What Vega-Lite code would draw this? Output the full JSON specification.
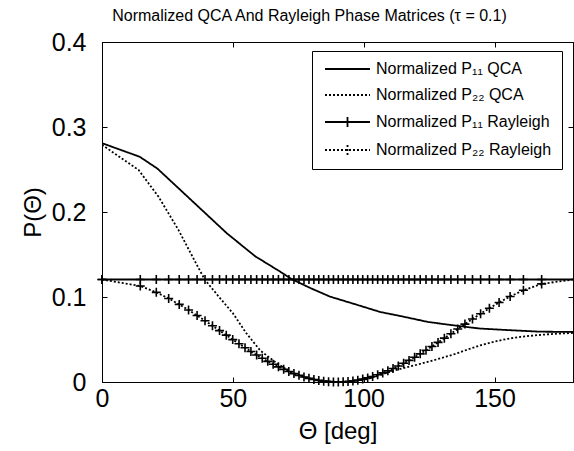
{
  "$schema": "https://vega.github.io/schema/vega-lite/v6.json",
  "width": 471,
  "height": 340,
  "autosize": "none",
  "padding": {"left": 102, "top": 42, "right": 1, "bottom": 69},
  "background": "white",
  "title": {
    "text": "Normalized QCA And Rayleigh Phase Matrices (τ = 0.1)",
    "font": "Liberation Sans",
    "fontSize": 16,
    "fontWeight": "normal",
    "color": "black",
    "anchor": "middle",
    "dx": -28,
    "offset": 6
  },
  "config": {
    "view": {"stroke": "black", "strokeWidth": 1},
    "axis": {
      "grid": false,
      "domainColor": "black",
      "tickColor": "black",
      "labelColor": "black",
      "titleColor": "black",
      "labelFont": "Liberation Sans",
      "titleFont": "Liberation Sans",
      "titleFontWeight": "normal",
      "labelFontSize": 25,
      "titleFontSize": 24,
      "tickSize": -5,
      "tickWidth": 1,
      "domainWidth": 1,
      "labelFlush": false,
      "labelOverlap": false,
      "labelBound": false
    },
    "legend": {
      "labelFont": "Liberation Sans",
      "labelColor": "black"
    }
  },
  "datasets": {
    "qca": [
      {"t": 0, "s": "P₁₁ QCA", "v": 0.281},
      {"t": 14.4, "s": "P₁₁ QCA", "v": 0.265},
      {"t": 21.2, "s": "P₁₁ QCA", "v": 0.251},
      {"t": 47.7, "s": "P₁₁ QCA", "v": 0.175},
      {"t": 58.5, "s": "P₁₁ QCA", "v": 0.148},
      {"t": 68, "s": "P₁₁ QCA", "v": 0.13},
      {"t": 72.5, "s": "P₁₁ QCA", "v": 0.121},
      {"t": 80, "s": "P₁₁ QCA", "v": 0.11},
      {"t": 87.2, "s": "P₁₁ QCA", "v": 0.1004},
      {"t": 98, "s": "P₁₁ QCA", "v": 0.0903},
      {"t": 106.3, "s": "P₁₁ QCA", "v": 0.0824},
      {"t": 115, "s": "P₁₁ QCA", "v": 0.077},
      {"t": 124.5, "s": "P₁₁ QCA", "v": 0.0707},
      {"t": 131, "s": "P₁₁ QCA", "v": 0.068},
      {"t": 137, "s": "P₁₁ QCA", "v": 0.0656},
      {"t": 144.4, "s": "P₁₁ QCA", "v": 0.0629},
      {"t": 155.5, "s": "P₁₁ QCA", "v": 0.061},
      {"t": 167.4, "s": "P₁₁ QCA", "v": 0.0592},
      {"t": 180, "s": "P₁₁ QCA", "v": 0.0589},
      {"t": 0, "s": "P₂₂ QCA", "v": 0.279},
      {"t": 14, "s": "P₂₂ QCA", "v": 0.2494},
      {"t": 21.6, "s": "P₂₂ QCA", "v": 0.218},
      {"t": 29.2, "s": "P₂₂ QCA", "v": 0.179},
      {"t": 36.9, "s": "P₂₂ QCA", "v": 0.134},
      {"t": 39.4, "s": "P₂₂ QCA", "v": 0.12},
      {"t": 45, "s": "P₂₂ QCA", "v": 0.099},
      {"t": 50, "s": "P₂₂ QCA", "v": 0.081},
      {"t": 55, "s": "P₂₂ QCA", "v": 0.058},
      {"t": 60.5, "s": "P₂₂ QCA", "v": 0.037},
      {"t": 66.8, "s": "P₂₂ QCA", "v": 0.022},
      {"t": 72, "s": "P₂₂ QCA", "v": 0.012},
      {"t": 78, "s": "P₂₂ QCA", "v": 0.005},
      {"t": 84, "s": "P₂₂ QCA", "v": 0.0012},
      {"t": 90, "s": "P₂₂ QCA", "v": 0},
      {"t": 96, "s": "P₂₂ QCA", "v": 0.0008},
      {"t": 102, "s": "P₂₂ QCA", "v": 0.004},
      {"t": 108, "s": "P₂₂ QCA", "v": 0.01},
      {"t": 114, "s": "P₂₂ QCA", "v": 0.0155},
      {"t": 120, "s": "P₂₂ QCA", "v": 0.02},
      {"t": 125, "s": "P₂₂ QCA", "v": 0.024},
      {"t": 130, "s": "P₂₂ QCA", "v": 0.0285},
      {"t": 135, "s": "P₂₂ QCA", "v": 0.033},
      {"t": 140, "s": "P₂₂ QCA", "v": 0.0385},
      {"t": 145, "s": "P₂₂ QCA", "v": 0.0435},
      {"t": 150, "s": "P₂₂ QCA", "v": 0.0475},
      {"t": 155, "s": "P₂₂ QCA", "v": 0.0508},
      {"t": 160, "s": "P₂₂ QCA", "v": 0.0532},
      {"t": 167, "s": "P₂₂ QCA", "v": 0.0553},
      {"t": 173, "s": "P₂₂ QCA", "v": 0.0567},
      {"t": 180, "s": "P₂₂ QCA", "v": 0.0577}
    ],
    "ray": [
      {"t": 0, "P₁₁ Rayleigh": 0.1206, "P₂₂ Rayleigh": 0.1206, "m": 1},
      {"t": 14.63, "P₁₁ Rayleigh": 0.1206, "P₂₂ Rayleigh": 0.1129, "m": 1},
      {"t": 20.75, "P₁₁ Rayleigh": 0.1206, "P₂₂ Rayleigh": 0.1055, "m": 1},
      {"t": 25.48, "P₁₁ Rayleigh": 0.1206, "P₂₂ Rayleigh": 0.0983, "m": 1},
      {"t": 29.52, "P₁₁ Rayleigh": 0.1206, "P₂₂ Rayleigh": 0.0913, "m": 1},
      {"t": 33.08, "P₁₁ Rayleigh": 0.1206, "P₂₂ Rayleigh": 0.0847, "m": 1},
      {"t": 36.34, "P₁₁ Rayleigh": 0.1206, "P₂₂ Rayleigh": 0.0782, "m": 1},
      {"t": 39.37, "P₁₁ Rayleigh": 0.1206, "P₂₂ Rayleigh": 0.0721, "m": 1},
      {"t": 42.22, "P₁₁ Rayleigh": 0.1206, "P₂₂ Rayleigh": 0.0661, "m": 1},
      {"t": 44.92, "P₁₁ Rayleigh": 0.1206, "P₂₂ Rayleigh": 0.0605, "m": 1},
      {"t": 47.49, "P₁₁ Rayleigh": 0.1206, "P₂₂ Rayleigh": 0.0551, "m": 1},
      {"t": 49.96, "P₁₁ Rayleigh": 0.1206, "P₂₂ Rayleigh": 0.0499, "m": 1},
      {"t": 52.35, "P₁₁ Rayleigh": 0.1206, "P₂₂ Rayleigh": 0.045, "m": 1},
      {"t": 54.66, "P₁₁ Rayleigh": 0.1206, "P₂₂ Rayleigh": 0.0403, "m": 1},
      {"t": 56.91, "P₁₁ Rayleigh": 0.1206, "P₂₂ Rayleigh": 0.0359, "m": 1},
      {"t": 59.1, "P₁₁ Rayleigh": 0.1206, "P₂₂ Rayleigh": 0.0318, "m": 1},
      {"t": 61.24, "P₁₁ Rayleigh": 0.1206, "P₂₂ Rayleigh": 0.0279, "m": 1},
      {"t": 63.34, "P₁₁ Rayleigh": 0.1206, "P₂₂ Rayleigh": 0.0243, "m": 1},
      {"t": 65.4, "P₁₁ Rayleigh": 0.1206, "P₂₂ Rayleigh": 0.0209, "m": 1},
      {"t": 67.43, "P₁₁ Rayleigh": 0.1206, "P₂₂ Rayleigh": 0.0178, "m": 1},
      {"t": 69.43, "P₁₁ Rayleigh": 0.1206, "P₂₂ Rayleigh": 0.0149, "m": 1},
      {"t": 71.4, "P₁₁ Rayleigh": 0.1206, "P₂₂ Rayleigh": 0.0123, "m": 1},
      {"t": 73.35, "P₁₁ Rayleigh": 0.1206, "P₂₂ Rayleigh": 0.0099, "m": 1},
      {"t": 75.28, "P₁₁ Rayleigh": 0.1206, "P₂₂ Rayleigh": 0.0078, "m": 1},
      {"t": 77.19, "P₁₁ Rayleigh": 0.1206, "P₂₂ Rayleigh": 0.0059, "m": 1},
      {"t": 79.09, "P₁₁ Rayleigh": 0.1206, "P₂₂ Rayleigh": 0.0043, "m": 1},
      {"t": 80.98, "P₁₁ Rayleigh": 0.1206, "P₂₂ Rayleigh": 0.003, "m": 1},
      {"t": 82.85, "P₁₁ Rayleigh": 0.1206, "P₂₂ Rayleigh": 0.0019, "m": 1},
      {"t": 84.72, "P₁₁ Rayleigh": 0.1206, "P₂₂ Rayleigh": 0.001, "m": 1},
      {"t": 86.59, "P₁₁ Rayleigh": 0.1206, "P₂₂ Rayleigh": 0.0004, "m": 1},
      {"t": 88.45, "P₁₁ Rayleigh": 0.1206, "P₂₂ Rayleigh": 0.0001, "m": 1},
      {"t": 90.31, "P₁₁ Rayleigh": 0.1206, "P₂₂ Rayleigh": 0, "m": 1},
      {"t": 92.16, "P₁₁ Rayleigh": 0.1206, "P₂₂ Rayleigh": 0.0002, "m": 1},
      {"t": 94.02, "P₁₁ Rayleigh": 0.1206, "P₂₂ Rayleigh": 0.0006, "m": 1},
      {"t": 95.89, "P₁₁ Rayleigh": 0.1206, "P₂₂ Rayleigh": 0.0013, "m": 1},
      {"t": 97.76, "P₁₁ Rayleigh": 0.1206, "P₂₂ Rayleigh": 0.0022, "m": 1},
      {"t": 99.64, "P₁₁ Rayleigh": 0.1206, "P₂₂ Rayleigh": 0.0034, "m": 1},
      {"t": 101.53, "P₁₁ Rayleigh": 0.1206, "P₂₂ Rayleigh": 0.0048, "m": 1},
      {"t": 103.43, "P₁₁ Rayleigh": 0.1206, "P₂₂ Rayleigh": 0.0065, "m": 1},
      {"t": 105.35, "P₁₁ Rayleigh": 0.1206, "P₂₂ Rayleigh": 0.0085, "m": 1},
      {"t": 107.29, "P₁₁ Rayleigh": 0.1206, "P₂₂ Rayleigh": 0.0107, "m": 1},
      {"t": 109.24, "P₁₁ Rayleigh": 0.1206, "P₂₂ Rayleigh": 0.0131, "m": 1},
      {"t": 111.22, "P₁₁ Rayleigh": 0.1206, "P₂₂ Rayleigh": 0.0158, "m": 1},
      {"t": 113.23, "P₁₁ Rayleigh": 0.1206, "P₂₂ Rayleigh": 0.0188, "m": 1},
      {"t": 115.27, "P₁₁ Rayleigh": 0.1206, "P₂₂ Rayleigh": 0.022, "m": 1},
      {"t": 117.34, "P₁₁ Rayleigh": 0.1206, "P₂₂ Rayleigh": 0.0254, "m": 1},
      {"t": 119.46, "P₁₁ Rayleigh": 0.1206, "P₂₂ Rayleigh": 0.0292, "m": 1},
      {"t": 121.61, "P₁₁ Rayleigh": 0.1206, "P₂₂ Rayleigh": 0.0331, "m": 1},
      {"t": 123.82, "P₁₁ Rayleigh": 0.1206, "P₂₂ Rayleigh": 0.0374, "m": 1},
      {"t": 126.09, "P₁₁ Rayleigh": 0.1206, "P₂₂ Rayleigh": 0.0418, "m": 1},
      {"t": 128.42, "P₁₁ Rayleigh": 0.1206, "P₂₂ Rayleigh": 0.0466, "m": 1},
      {"t": 130.84, "P₁₁ Rayleigh": 0.1206, "P₂₂ Rayleigh": 0.0516, "m": 1},
      {"t": 133.34, "P₁₁ Rayleigh": 0.1206, "P₂₂ Rayleigh": 0.0568, "m": 1},
      {"t": 135.95, "P₁₁ Rayleigh": 0.1206, "P₂₂ Rayleigh": 0.0623, "m": 1},
      {"t": 138.7, "P₁₁ Rayleigh": 0.1206, "P₂₂ Rayleigh": 0.0681, "m": 1},
      {"t": 141.59, "P₁₁ Rayleigh": 0.1206, "P₂₂ Rayleigh": 0.0741, "m": 1},
      {"t": 144.69, "P₁₁ Rayleigh": 0.1206, "P₂₂ Rayleigh": 0.0803, "m": 1},
      {"t": 148.05, "P₁₁ Rayleigh": 0.1206, "P₂₂ Rayleigh": 0.0868, "m": 1},
      {"t": 151.75, "P₁₁ Rayleigh": 0.1206, "P₂₂ Rayleigh": 0.0936, "m": 1},
      {"t": 155.97, "P₁₁ Rayleigh": 0.1206, "P₂₂ Rayleigh": 0.1006, "m": 1},
      {"t": 161.05, "P₁₁ Rayleigh": 0.1206, "P₂₂ Rayleigh": 0.1079, "m": 1},
      {"t": 168.02, "P₁₁ Rayleigh": 0.1206, "P₂₂ Rayleigh": 0.1154, "m": 1},
      {"t": 180, "P₁₁ Rayleigh": 0.1206, "P₂₂ Rayleigh": 0.1206, "m": 0}
    ]
  },
  "layer": [
    {
      "data": {"name": "qca"},
      "mark": {"type": "line", "color": "black", "strokeWidth": 1.8, "clip": true},
      "encoding": {
        "x": {
          "field": "t", "type": "quantitative",
          "scale": {"domain": [0, 180], "nice": false, "zero": false},
          "axis": {"values": [0, 50, 100, 150], "title": "Θ [deg]", "labelPadding": 9, "titlePadding": 8}
        },
        "y": {
          "field": "v", "type": "quantitative",
          "scale": {"domain": [0, 0.4], "nice": false},
          "axis": {"values": [0, 0.1, 0.2, 0.3, 0.4], "format": "~g", "title": "P(Θ)", "labelPadding": 21, "titlePadding": 6}
        },
        "strokeDash": {
          "field": "s", "type": "nominal",
          "scale": {
            "domain": ["P₁₁ QCA", "P₂₂ QCA", "P₁₁ Rayleigh", "P₂₂ Rayleigh"],
            "range": [[1, 0], [2, 2], [1, 0], [2, 2]]
          },
          "legend": {
            "orient": "none",
            "legendX": 210,
            "legendY": 9,
            "title": null,
            "strokeColor": "black",
            "fillColor": "white",
            "padding": 10,
            "labelFontSize": 16,
            "labelLimit": 400,
            "labelExpr": "'Normalized ' + datum.label + '  '",
            "symbolSize": 100,
            "symbolOffset": 17.5,
            "symbolStrokeWidth": 1.8,
            "symbolStrokeColor": "black",
            "rowPadding": 10,
            "labelOffset": 20.5,
            "encode": {
              "symbols": {
                "update": {
                  "shape": {"signal": "indexof(datum.value, 'Rayleigh') >= 0 ? 'M-4.5,0H4.5M0,-1V1' : 'M-4.5,0H4.5'"},
                  "fill": {"value": "transparent"},
                  "stroke": {"value": "black"}
                }
              }
            }
          }
        }
      }
    },
    {
      "data": {"name": "ray"},
      "transform": [{"fold": ["P₁₁ Rayleigh", "P₂₂ Rayleigh"], "as": ["s", "v"]}],
      "mark": {"type": "line", "color": "black", "strokeWidth": 1.8, "clip": true},
      "encoding": {
        "x": {"field": "t", "type": "quantitative", "axis": null},
        "y": {"field": "v", "type": "quantitative", "axis": null},
        "strokeDash": {"field": "s", "type": "nominal"}
      }
    },
    {
      "data": {"name": "ray"},
      "transform": [
        {"fold": ["P₁₁ Rayleigh", "P₂₂ Rayleigh"], "as": ["s", "v"]},
        {"filter": "datum.m == 1"}
      ],
      "mark": {"type": "point", "shape": "M-1,0H1M0,-1V1", "size": 81, "filled": false, "stroke": "black", "strokeWidth": 1.6, "opacity": 1},
      "encoding": {
        "x": {
          "field": "t", "type": "quantitative",
          "axis": {"orient": "top", "values": [0, 50, 100, 150], "labels": false, "title": null}
        },
        "y": {
          "field": "v", "type": "quantitative",
          "axis": {"orient": "right", "values": [0, 0.1, 0.2, 0.3, 0.4], "labels": false, "title": null}
        }
      }
    }
  ],
  "resolve": {"axis": {"x": "independent", "y": "independent"}}
}
